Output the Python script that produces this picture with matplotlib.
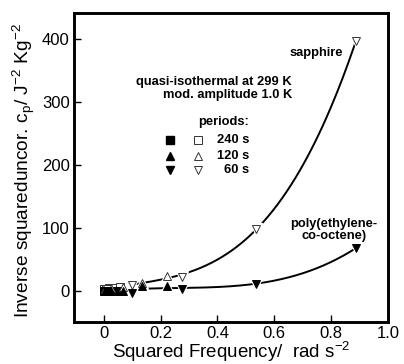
import numpy as np
import matplotlib.pyplot as plt

plt.rcParams['font.family'] = ['Liberation Sans', 'DejaVu Sans']
plt.rcParams['mathtext.fontset'] = 'custom'
plt.rcParams['mathtext.rm'] = 'Liberation Sans'
plt.rcParams['mathtext.it'] = 'Liberation Sans'

# squared frequencies of harmonics 1,3,5,7,9 for each period
x_240 = [0.000685, 0.00617, 0.0171, 0.0336, 0.0555]
x_120 = [0.00274, 0.0247, 0.0685, 0.134, 0.222]
x_60 = [0.011, 0.0987, 0.274, 0.537, 0.888]

# sapphire (open symbols)
sap_240 = [2, 3, 4, 5, 6]
sap_120 = [2, 4, 6, 13, 24]
sap_60 = [3, 9, 22, 98, 398]

# poly(ethylene-co-octene) (filled symbols)
pe_240 = [0, 0, 0, 0, -1]
pe_120 = [0, 0, 0, 8, 8]
pe_60 = [-1, -3, 2, 11, 68]

fig = plt.figure(figsize=(4.04, 3.64), dpi=100)
ax = fig.add_axes([0.183, 0.115, 0.777, 0.849])

# fitted curves
xs_all = np.array(x_240 + x_120 + x_60)
sap_all = np.array(sap_240 + sap_120 + sap_60)
pe_all = np.array(pe_240 + pe_120 + pe_60)
xc = np.linspace(0.1, 0.888, 200)
ax.plot(xc, np.polyval(np.polyfit(xs_all, sap_all, 3), xc), color='black', lw=1.4, zorder=2)
ax.plot(xc, np.polyval(np.polyfit(xs_all, pe_all, 3), xc), color='black', lw=1.4, zorder=2)

sets = [(x_240, sap_240, pe_240, 's'), (x_120, sap_120, pe_120, '^'), (x_60, sap_60, pe_60, 'v')]
for xv, sv, pv, m in sets:
    # white halo so lines break around symbols
    ax.plot(xv, sv, ls='none', marker=m, ms=8.5, mfc='white', mec='white', zorder=3)
    ax.plot(xv, pv, ls='none', marker=m, ms=8.5, mfc='white', mec='white', zorder=3)
    ax.plot(xv, sv, ls='none', marker=m, ms=5.5, mfc='white', mec='#333333', mew=0.7, zorder=4)
    ax.plot(xv, pv, ls='none', marker=m, ms=5.5, mfc='black', mec='black', mew=0.7, zorder=4)

# key
key_labels = ['240 s', '120 s', '60 s']
key_y = [240, 214, 192]
for (xv, sv, pv, m), lab, ky in zip(sets, key_labels, key_y):
    ax.plot([0.234], [ky], marker=m, ms=5.5, mfc='black', mec='black', ls='none')
    ax.plot([0.333], [ky], marker=m, ms=5.5, mfc='white', mec='#333333', mew=0.7, ls='none')
    ax.text(0.513, ky, lab, ha='right', va='center', fontsize=9.3, fontweight='bold')
ax.text(0.513, 268, 'periods:', ha='right', va='center', fontsize=9.3, fontweight='bold')

ax.text(0.842, 378, 'sapphire', ha='right', va='center', fontsize=9.3, fontweight='bold')
ax.text(0.662, 333, 'quasi-isothermal at 299 K', ha='right', va='center', fontsize=9.3, fontweight='bold')
ax.text(0.662, 311, 'mod. amplitude 1.0 K', ha='right', va='center', fontsize=9.3, fontweight='bold')
ax.text(0.81, 97, 'poly(ethylene-\nco-octene)', ha='center', va='center', fontsize=9.3,
        fontweight='bold', linespacing=1.05)

ax.set_xlim(-0.105, 1.0)
ax.set_ylim(-50, 442)
ax.set_xticks([0, 0.2, 0.4, 0.6, 0.8, 1.0])
ax.set_xticklabels(['0', '0.2', '0.4', '0.6', '0.8', '1.0'])
ax.set_yticks([0, 100, 200, 300, 400])
ax.tick_params(direction='in', length=5, width=1, labelsize=12, top=False, right=False, pad=3)
for s in ax.spines.values():
    s.set_linewidth(2.1)

ax.set_xlabel('Squared Frequency/  rad s$^{\\mathregular{-2}}$', fontsize=13.5)
ax.xaxis.set_label_coords(0.5, -0.098)
ax.xaxis.label.set_va('center')
ax.set_ylabel('Inverse squareduncor. c$_{\\mathregular{p}}$/ J$^{\\mathregular{-2}}$ Kg$^{\\mathregular{-2}}$',
              fontsize=13.8)
ax.yaxis.set_label_coords(-0.16, 0.49)
ax.yaxis.label.set_va('center')

fig.savefig('out.png', dpi=100)
